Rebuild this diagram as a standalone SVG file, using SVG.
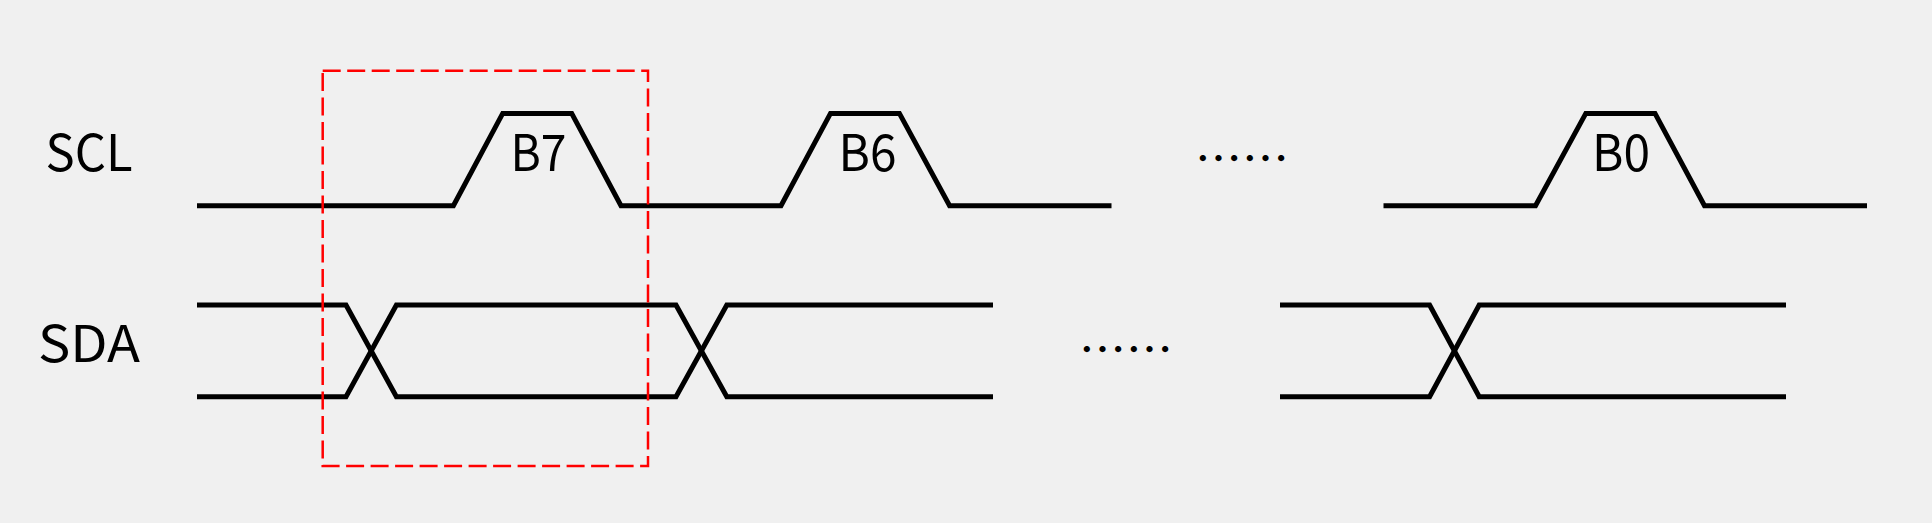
<svg xmlns="http://www.w3.org/2000/svg" width="1932" height="523" viewBox="0 0 1932 523">
<style>
.sig{fill:none;stroke:#000;stroke-width:5;stroke-linejoin:miter;stroke-linecap:butt}
.lbl{font-family:"Noto Sans CJK SC","Noto Sans",sans-serif;font-size:51px;fill:#000}
.dots{font-family:"Noto Sans CJK SC",sans-serif;font-size:47px;fill:#000}
.sel{fill:none;stroke:#ff0000;stroke-width:2.5;stroke-dasharray:18 6.5}
</style>
<rect width="1932" height="523" fill="#f0f0f0"/>
<g id="labels">
<text id="scl-label" class="lbl" x="45.5" y="170.7" textLength="87" lengthAdjust="spacingAndGlyphs">SCL</text>
<text id="sda-label" class="lbl" x="38" y="361.7" textLength="102" lengthAdjust="spacingAndGlyphs">SDA</text>
</g>
<g id="connectors">
<path id="scl-1" class="sig" d="M197,205.8 H453.4 L502.7,113.4 H571.7 L621,205.8 H781 L830.5,113.4 H899.4 L949.6,205.8 H1111.5"/>
<path id="scl-2" class="sig" d="M1383.5,205.8 H1535.5 L1585.8,113.4 H1655 L1704.5,205.8 H1867"/>
<path id="sda-1a" class="sig" d="M197,305 H346 L396.4,396.7 H676 L726.8,305 H993"/>
<path id="sda-1b" class="sig" d="M197,396.7 H346 L396.4,305 H676 L726.8,396.7 H993"/>
<path id="sda-2a" class="sig" d="M1280,305 H1429.6 L1479.2,396.7 H1786"/>
<path id="sda-2b" class="sig" d="M1280,396.7 H1429.6 L1479.2,305 H1786"/>
</g>
<g id="bits">
<text id="b7" class="lbl" x="510.5" y="170.7" textLength="56" lengthAdjust="spacingAndGlyphs">B7</text>
<text id="b6" class="lbl" x="838.5" y="170.5" textLength="58" lengthAdjust="spacingAndGlyphs">B6</text>
<text id="b0" class="lbl" x="1592" y="170.5" textLength="58" lengthAdjust="spacingAndGlyphs">B0</text>
</g>
<g id="ellipses">
<text id="dots-scl" class="dots" x="1195" y="175.7">……</text>
<text id="dots-sda" class="dots" x="1079" y="366.7">……</text>
</g>
<rect id="selection" class="sel" x="322.7" y="70.7" width="325.3" height="395.3"/>
</svg>
